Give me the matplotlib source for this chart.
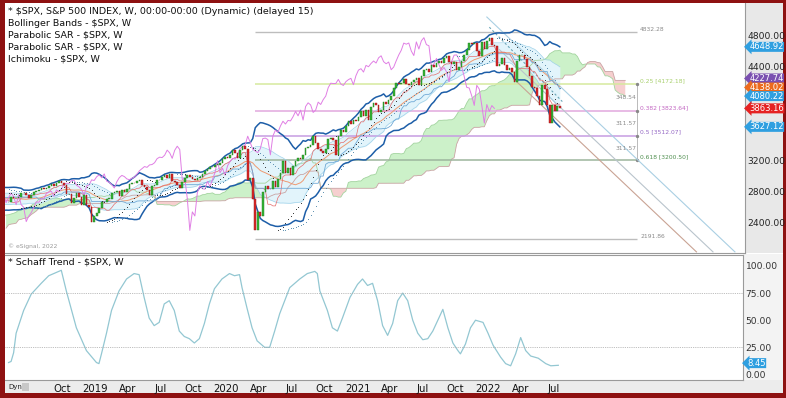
import numpy as np
import pandas as pd
import matplotlib
matplotlib.use("Agg")
import matplotlib.pyplot as plt
from matplotlib.patches import Rectangle

# --- DATA: weekly closes of $SPX (Fridays), from Nov 2016 to Jul 15 2022 ---
closes_2016 = [2085, 2164, 2182, 2213, 2192, 2259, 2258, 2264, 2239]
closes_2017 = [2277, 2275, 2271, 2295, 2297, 2316, 2351, 2367, 2383, 2373, 2378, 2344, 2363,
               2356, 2329, 2349, 2384, 2399, 2391, 2382, 2416, 2439, 2432, 2433, 2438, 2423,
               2425, 2459, 2473, 2472, 2477, 2441, 2426, 2444, 2477, 2461, 2500, 2502, 2519,
               2549, 2553, 2575, 2581, 2588, 2582, 2579, 2602, 2642, 2652, 2675, 2683, 2674]
closes_2018 = [2743, 2786, 2810, 2873, 2762, 2620, 2732, 2747, 2691, 2786, 2752, 2588, 2640,
               2604, 2656, 2670, 2670, 2663, 2728, 2713, 2721, 2735, 2779, 2780, 2755, 2718,
               2760, 2801, 2802, 2819, 2840, 2833, 2850, 2875, 2902, 2872, 2905, 2930, 2914,
               2886, 2767, 2768, 2658, 2723, 2781, 2736, 2633, 2760, 2633, 2600, 2417, 2486]
closes_2019 = [2532, 2596, 2670, 2664, 2707, 2708, 2776, 2793, 2803, 2743, 2822, 2800, 2834,
               2893, 2907, 2905, 2940, 2946, 2881, 2860, 2826, 2752, 2873, 2887, 2950, 2942,
               2990, 3014, 2977, 3026, 2932, 2919, 2889, 2847, 2926, 2979, 3007, 2992, 2962,
               2952, 2970, 2986, 3023, 3067, 3093, 3120, 3110, 3141, 3146, 3169, 3221, 3240]
closes_2020 = [3235, 3265, 3330, 3295, 3225, 3328, 3380, 3338, 2954, 2972, 2711, 2305, 2541,
               2489, 2790, 2875, 2837, 2831, 2930, 2864, 2955, 3044, 3194, 3041, 3098, 3009,
               3130, 3185, 3225, 3216, 3271, 3351, 3373, 3397, 3508, 3427, 3341, 3319, 3298,
               3348, 3477, 3484, 3465, 3270, 3510, 3585, 3558, 3638, 3699, 3663, 3709, 3703]
closes_2021 = [3756, 3824, 3768, 3841, 3714, 3887, 3934, 3907, 3811, 3842, 3943, 3913, 3975,
               4020, 4129, 4185, 4180, 4181, 4233, 4174, 4156, 4204, 4230, 4247, 4166, 4281,
               4352, 4370, 4327, 4412, 4395, 4437, 4468, 4442, 4509, 4535, 4459, 4433, 4455,
               4357, 4391, 4471, 4545, 4605, 4697, 4683, 4698, 4595, 4538, 4712, 4621, 4726, 4766]
closes_2022 = [4677, 4663, 4398, 4432, 4501, 4419, 4349, 4385, 4329, 4204, 4463, 4543, 4546,
               4488, 4392, 4272, 4132, 4123, 4024, 3901, 4158, 4109, 3901, 3675, 3912, 3825,
               3899, 3863.16]

first_week = "2016-11-04"
shown_from = "2018-05-04"

# Schaff Trend (week number counted from May 4 2018)
schaff_week = [0, 1, 2, 3, 6, 9, 13, 16, 20, 21, 23, 25, 27, 31, 35, 36, 37, 39, 41, 44, 47,
               50, 52, 54, 56, 58, 60, 62, 64, 66, 68, 70, 72, 74, 76, 78, 80, 82, 85, 88,
               90, 92, 93, 95, 97, 99, 102, 104, 106, 108, 110, 112, 116, 119, 122, 123, 124,
               127, 129, 131, 133, 136, 139, 141, 143, 145, 147, 149, 151, 153, 155, 157,
               159, 161, 163, 165, 167, 169, 171, 173, 175, 177, 179, 180, 182, 184, 186,
               189, 191, 193, 196, 198, 200, 202, 204, 206, 208, 211, 214, 216, 219]
schaff_val = [11, 12, 20, 38, 59, 74, 84, 91, 95, 96, 77, 60, 43, 22, 11, 10, 19, 38, 59, 77,
              88, 93, 92, 71, 52, 45, 48, 65, 68, 59, 40, 35, 33, 29, 33, 47, 65, 79, 88, 93,
              91, 92, 80, 61, 43, 31, 25, 25, 40, 56, 68, 80, 88, 93, 95, 93, 77, 59, 43, 40,
              52, 71, 83, 88, 82, 84, 68, 45, 36, 47, 68, 75, 68, 50, 38, 32, 33, 40, 50, 60,
              43, 29, 22, 19, 28, 43, 50, 48, 38, 27, 16, 10, 8, 19, 34, 22, 17, 15, 10, 8,
              8.45]

# Fibonacci retracement (Mar 2020 low -> Jan 2022 high)
fib_low, fib_high = 2191.86, 4832.28
fib_ratios = [0.25, 0.382, 0.5, 0.618]
fib_prices = [4172.18, 3823.64, 3512.07, 3200.50]
fib_colors = ["#d6e99e", "#e2a8de", "#c69ce2", "#9db59d"]
fib_text_colors = ["#a6cf6a", "#c266c2", "#9467c4", "#4f8f4f"]
fib_steps = ["348.54", "311.57", "311.57"]
fib_start, fib_end = "2020-03-20", "2023-02-15"

# descending channel drawn on the chart (start date, start price, end date, end price)
chan_start = ["2021-12-24", "2022-01-28", "2022-03-11", "2021-12-31"]
chan_start_px = [5030, 4613, 4230, 4900]
chan_end = ["2023-11-14", "2023-09-14", "2023-07-30", "2022-07-22"]
chan_end_px = [2030, 2030, 2030, 3950]
chan_colors = ["#a9cfe3", "#b9c4cc", "#c9a394", "#6aa6b8"]
chan_styles = ["-", "-", "-", (0, (2, 2))]

# right axis value flags (the middle three are stacked like in the original)
flag_vals = [4648.92, 4227.74, 4138.02, 4080.22, 3863.16, 3627.12]
flag_pos = [4648.92, 4245.00, 4130.00, 4020.00, 3863.16, 3627.12]
flag_colors = ["#2f9fe0", "#7a4fb0", "#ec6a1c", "#2f9fe0", "#e52222", "#2f9fe0"]

tick_dates = ["2018-10-01", "2019-01-01", "2019-04-01", "2019-07-01", "2019-10-01",
              "2020-01-01", "2020-04-01", "2020-07-01", "2020-10-01", "2021-01-01",
              "2021-04-01", "2021-07-01", "2021-10-01", "2022-01-01", "2022-04-01",
              "2022-07-01"]
tick_names = ["Oct", "2019", "Apr", "Jul", "Oct", "2020", "Apr", "Jul", "Oct", "2021",
              "Apr", "Jul", "Oct", "2022", "Apr", "Jul"]

# --- indicators, computed from the closes like the charting package does ---
close = pd.Series(closes_2016 + closes_2017 + closes_2018 + closes_2019 + closes_2020
                  + closes_2021 + closes_2022, dtype=float)
dates = pd.date_range(first_week, periods=len(close), freq="W-FRI")
close.index = dates
future = pd.date_range(dates[-1], periods=27, freq="W-FRI")[1:]
all_dates = dates.append(future)

mid = close.rolling(20).mean()
sd = close.rolling(20).std(ddof=0)
bb_up, bb_lo = mid + 2 * sd, mid - 2 * sd
in_up, in_lo = mid + sd, mid - sd

tenkan = (close.rolling(9).max() + close.rolling(9).min()) / 2
kijun = (close.rolling(26).max() + close.rolling(26).min()) / 2
span_a = ((tenkan + kijun) / 2).values
span_b = ((close.rolling(52).max() + close.rolling(52).min()) / 2).values
span_a = pd.Series(np.r_[np.full(26, np.nan), span_a], index=all_dates)
span_b = pd.Series(np.r_[np.full(26, np.nan), span_b], index=all_dates)
chikou = pd.Series(close.values[26:], index=dates[:-26])


def psar(p, step, top):
    out = np.zeros(len(p))
    bull, af, ep = True, step, p[0]
    out[0] = p[0]
    for i in range(1, len(p)):
        s = out[i - 1] + af * (ep - out[i - 1])
        if bull:
            s = min(s, p[i - 1], p[max(i - 2, 0)])
            if p[i] < s:
                bull, s, ep, af = False, ep, p[i], step
            elif p[i] > ep:
                ep, af = p[i], min(af + step, top)
        else:
            s = max(s, p[i - 1], p[max(i - 2, 0)])
            if p[i] > s:
                bull, s, ep, af = True, ep, p[i], step
            elif p[i] < ep:
                ep, af = p[i], min(af + step, top)
        out[i] = s
    return pd.Series(out, index=dates)


sar1 = psar(close.values, 0.02, 0.2)
sar2 = psar(close.values, 0.01, 0.1)

# --- FIGURE ---
W, H = 786, 398
fig = plt.figure(figsize=(W / 100, H / 100), dpi=100, facecolor="#8e1111")


def box(x0, y0, x1, y1):
    return [x0 / W, 1 - y1 / H, (x1 - x0) / W, (y1 - y0) / H]


def rect(x0, y0, x1, y1, color):
    b = box(x0, y0, x1, y1)
    fig.patches.append(Rectangle((b[0], b[1]), b[2], b[3], transform=fig.transFigure,
                                 facecolor=color, edgecolor="none", zorder=-10))


rect(5, 3, 783, 393, "white")
rect(745, 3, 783, 253, "#e8e8e8")
rect(743, 254, 783, 380, "#f3f3f3")
rect(5, 380, 783, 393, "#ececec")

xmin, xmax = pd.Timestamp("2018-04-24"), pd.Timestamp("2023-12-12")
show = dates >= pd.Timestamp(shown_from)

ax = fig.add_axes(box(5, 3, 745, 253))
ax.set_facecolor("none")
ax.set_xlim(xmin, xmax)
ax.set_ylim(2016, 5209)

# Ichimoku cloud
a, b = span_a.values, span_b.values
ax.fill_between(all_dates, a, b, where=a >= b, color="#ccf1c9", lw=0, interpolate=True, zorder=1)
ax.fill_between(all_dates, a, b, where=a < b, color="#f6cfcf", lw=0, interpolate=True, zorder=1)
ax.plot(all_dates, a, color="#a3d49f", lw=0.6, zorder=2)
ax.plot(all_dates, b, color="#c9a4a4", lw=0.6, zorder=2)

# Bollinger bands
ax.fill_between(dates, in_lo, in_up, color="#e2f4fb", lw=0, zorder=1.5)
ax.plot(dates, in_up, color="#9fd2ea", lw=0.5, zorder=2.5)
ax.plot(dates, in_lo, color="#9fd2ea", lw=0.5, zorder=2.5)
ax.plot(dates, bb_up, color="#1d5ea8", lw=1.1, zorder=3)
ax.plot(dates, bb_lo, color="#1d5ea8", lw=1.1, zorder=3)
ax.plot(dates, mid, color="#ee9a72", lw=0.7, zorder=3)

ax.plot(dates, tenkan, color="#e46c6c", lw=0.5, zorder=3)
ax.plot(dates, kijun, color="#6fa9d6", lw=0.6, zorder=3)
ax.plot(chikou.index, chikou.values, color="#e07ee4", lw=0.7, zorder=3)

# parabolic SAR dots
ax.scatter(dates[show], sar1[show], s=0.5, color="#333333", lw=0, zorder=4)
ax.scatter(dates[show], sar2[show], s=0.5, color="#5b8fb0", lw=0, zorder=4)

# candles (open = previous weekly close)
opens = close.shift(1)
c, o, d = close[show], opens[show], dates[show]
up = (c >= o).values
body = (c - o).abs().clip(lower=8)
ax.bar(d[up], body[up], bottom=o[up], width=4.5, color="#35b535", edgecolor="#1f7a1f",
       lw=0.3, zorder=5)
ax.bar(d[~up], body[~up], bottom=c[~up], width=4.5, color="#dd2a2a", edgecolor="#8a1010",
       lw=0.3, zorder=5)

# fibonacci levels
fs, fe = pd.Timestamp(fib_start), pd.Timestamp(fib_end)
lab_x = fe + pd.Timedelta(days=8)
ax.hlines([fib_high, fib_low], fs, fe, color="#bdbdbd", lw=1.0, zorder=2)
ax.hlines(fib_prices, fs, fe, colors=fib_colors, lw=1.1, zorder=2)
ax.vlines(fe, fib_prices[-1], fib_prices[0], color="#a0a0a0", lw=0.5, zorder=2)
ax.scatter([fe] * 4, fib_prices, s=2, color="#888888", zorder=2)
ax.text(lab_x, fib_high, f"{fib_high:.2f}", fontsize=4.3, color="#8a8a8a", va="bottom")
ax.text(lab_x, fib_low, f"{fib_low:.2f}", fontsize=4.3, color="#8a8a8a", va="bottom")
for r, p, tc in zip(fib_ratios, fib_prices, fib_text_colors):
    ax.text(lab_x, p + 15, f"{r:g} [{p:.2f}]", fontsize=4.3, color=tc, va="bottom")
for i, s in enumerate(fib_steps):
    ax.text(fe - pd.Timedelta(days=2), (fib_prices[i] + fib_prices[i + 1]) / 2, s,
            fontsize=4.3, color="#8a8a8a", ha="right", va="center")

# descending channel
for s0, p0, s1, p1, col, ls in zip(chan_start, chan_start_px, chan_end, chan_end_px,
                                   chan_colors, chan_styles):
    ax.plot([pd.Timestamp(s0), pd.Timestamp(s1)], [p0, p1], color=col, lw=0.8, ls=ls, zorder=2)

ax.yaxis.tick_right()
ax.set_yticks([2400, 2800, 3200, 4400, 4800])
ax.yaxis.set_major_formatter(matplotlib.ticker.FormatStrFormatter("%.2f"))
ax.tick_params(axis="y", length=0, pad=1.5, labelsize=6.6, labelcolor="#222222")
ax.set_xticks([])
for sp in ["top", "left"]:
    ax.spines[sp].set_visible(False)
for sp in ["right", "bottom"]:
    ax.spines[sp].set_color("#9a9a9a")
    ax.spines[sp].set_linewidth(0.8)

for v, pos, col in zip(flag_vals, flag_pos, flag_colors):
    ax.annotate(f"{v:.2f}", xy=(1.0, pos), xycoords=("axes fraction", "data"),
                xytext=(3.0, 0), textcoords="offset points", ha="left", va="center",
                fontsize=6.0, color="white",
                bbox=dict(boxstyle="larrow,pad=0.06", fc=col, ec="none"))

legend_lines = ["* \\$SPX, S&P 500 INDEX, W, 00:00-00:00 (Dynamic) (delayed 15)",
                "Bollinger Bands - \\$SPX, W", "Parabolic SAR - \\$SPX, W",
                "Parabolic SAR - \\$SPX, W", "Ichimoku - \\$SPX, W"]
for i, t in enumerate(legend_lines):
    fig.text(8 / W, 1 - (11 + 12 * i) / H, t, fontsize=6.8, va="center", color="#111111")
fig.text(8 / W, 1 - 246 / H, "© eSignal, 2022", fontsize=4.3, va="center", color="#9a9a9a")

# --- lower panel: Schaff Trend ---
ax2 = fig.add_axes(box(5, 255, 743, 380))
ax2.set_facecolor("none")
ax2.set_xlim(xmin, xmax)
ax2.set_ylim(-5.1, 110.1)
sd_dates = dates[show][schaff_week]
ax2.plot(sd_dates, schaff_val, color="#93c7d2", lw=0.9)
ax2.axhline(75, color="#a8a8a8", lw=0.6, ls=(0, (1, 1.2)))
ax2.axhline(25, color="#a8a8a8", lw=0.6, ls=(0, (1, 1.2)))
ax2.yaxis.tick_right()
ax2.set_yticks([0, 25, 50, 75, 100])
ax2.yaxis.set_major_formatter(matplotlib.ticker.FormatStrFormatter("%.2f"))
ax2.tick_params(axis="y", length=0, pad=2, labelsize=6.6, labelcolor="#333333")
ax2.set_xticks(pd.to_datetime(tick_dates))
ax2.set_xticklabels(tick_names)
ax2.tick_params(axis="x", length=0, pad=3, labelsize=7.3, labelcolor="#111111")
ax2.spines["left"].set_visible(False)
for sp in ["top", "right", "bottom"]:
    ax2.spines[sp].set_color("#9a9a9a")
    ax2.spines[sp].set_linewidth(0.8)
ax2.annotate(f"{schaff_val[-1]:.2f}", xy=(1.0, schaff_val[-1] + 2), xycoords=("axes fraction", "data"),
             xytext=(3.0, 0), textcoords="offset points", ha="left", va="center",
             fontsize=6.0, color="white",
             bbox=dict(boxstyle="larrow,pad=0.06", fc="#2f9fe0", ec="none"))
fig.text(8 / W, 1 - 262 / H, "* Schaff Trend - \\$SPX, W", fontsize=6.8, va="center",
         color="#111111")
fig.text(8 / W, 1 - 387 / H, "Dyn", fontsize=5, va="center", color="#222222")
rect(22, 383, 29, 391, "#c8c8c8")

fig.savefig("out.png", dpi=100, facecolor=fig.get_facecolor())
